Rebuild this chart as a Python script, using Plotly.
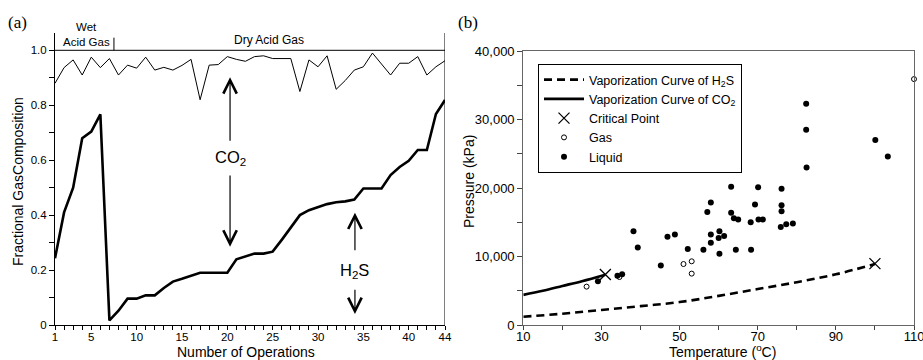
import plotly.graph_objects as go

# ---------------- data: panel (a) ----------------
operations = list(range(1, 45))
co2_frac = [0.88, 0.937, 0.965, 0.91, 0.975, 0.937, 0.97, 0.91, 0.946, 0.935,
            0.975, 0.928, 0.938, 0.928, 0.945, 0.967, 0.82, 0.946, 0.948, 0.977,
            0.967, 0.96, 0.977, 0.98, 0.97, 0.97, 0.97, 0.85, 0.965, 0.94,
            0.98, 0.858, 0.89, 0.928, 0.94, 0.99, 0.95, 0.91, 0.953, 0.953,
            0.977, 0.91, 0.94, 0.962]
h2s_frac = [0.243, 0.41, 0.50, 0.68, 0.704, 0.767, 0.017, 0.052, 0.096, 0.096,
            0.108, 0.108, 0.135, 0.158, 0.168, 0.18, 0.19, 0.19, 0.19, 0.19,
            0.239, 0.25, 0.26, 0.26, 0.267, 0.31, 0.355, 0.40, 0.418, 0.43,
            0.44, 0.447, 0.45, 0.457, 0.497, 0.497, 0.497, 0.546, 0.575, 0.598,
            0.637, 0.637, 0.768, 0.819]
a_xtick_vals = [1, 5, 10, 15, 20, 25, 30, 35, 40, 44]
a_ytick_vals = [0, 0.2, 0.4, 0.6, 0.8, 1.0]
a_ytick_text = ["0", "0.2", "0.4", "0.6", "0.8", "1.0"]

# ---------------- data: panel (b) ----------------
h2s_curve_T = [10, 20, 30, 40, 50, 60, 70, 80, 90, 100]
h2s_curve_P = [1200, 1650, 2200, 2750, 3350, 4250, 5250, 6250, 7400, 8900]
co2_curve_T = [10, 15, 20, 25, 31]
co2_curve_P = [4400, 5000, 5700, 6400, 7350]
crit_T = [31.0, 100.0]
crit_P = [7380, 8960]
gas_T = [26.2, 34.6, 51.0, 53.1, 53.1, 110.0]
gas_P = [5600, 7000, 8900, 9300, 7500, 35900]
liq_T = [29.1, 34.1, 35.3, 38.2, 39.3, 45.2, 46.9, 48.8, 52.1, 56.1,
         57.1, 58.0, 58.0, 58.0, 60.0, 60.2, 60.2, 61.4, 63.2, 63.2,
         63.9, 65.0, 64.4, 68.3, 68.2, 69.3, 70.1, 70.2, 71.3, 76.1,
         76.1, 76.1, 75.9, 77.3, 79.0, 82.4, 82.4, 82.5, 100.1, 103.3]
liq_P = [6400, 7200, 7400, 13700, 11300, 8700, 12900, 13200, 11100, 11000,
         16500, 17900, 13200, 12000, 12700, 13700, 10400, 13000, 20200, 16400,
         15600, 15400, 11000, 11000, 15000, 17600, 20100, 15400, 15400, 19900,
         17500, 16600, 14300, 14700, 14800, 32300, 28500, 23000, 27000, 24600]
b_xtick_vals = [10, 30, 50, 70, 90, 110]
b_ytick_vals = [0, 10000, 20000, 30000, 40000]

W, H = 923, 360
FONT = "Arial, Liberation Sans, sans-serif"
SERIF = "Times New Roman, Liberation Serif, serif"


def px_x(p):
    return p / W


def px_y(p):
    return 1 - p / H


fig = go.Figure()

# panel (a) traces
fig.add_trace(go.Scatter(x=operations, y=co2_frac, mode="lines",
                         line=dict(color="black", width=1), showlegend=False,
                         xaxis="x", yaxis="y"))
fig.add_trace(go.Scatter(x=operations, y=h2s_frac, mode="lines",
                         line=dict(color="black", width=2.6), showlegend=False,
                         xaxis="x", yaxis="y"))

# panel (b) traces
fig.add_trace(go.Scatter(x=h2s_curve_T, y=h2s_curve_P, mode="lines",
                         line=dict(color="black", width=2.6, dash="8px,5px", shape="spline"),
                         name="Vaporization Curve of H<sub>2</sub>S",
                         xaxis="x2", yaxis="y2"))
fig.add_trace(go.Scatter(x=co2_curve_T, y=co2_curve_P, mode="lines",
                         line=dict(color="black", width=2.6, shape="spline"),
                         name="Vaporization Curve of CO<sub>2</sub>",
                         xaxis="x2", yaxis="y2"))
fig.add_trace(go.Scatter(x=crit_T, y=crit_P, mode="markers",
                         marker=dict(symbol="x-thin", size=11, color="black",
                                     line=dict(color="black", width=1.3)),
                         name="Critical Point", xaxis="x2", yaxis="y2"))
fig.add_trace(go.Scatter(x=gas_T, y=gas_P, mode="markers", cliponaxis=False,
                         marker=dict(symbol="circle-open", size=5, color="black",
                                     line=dict(color="black", width=1)),
                         name="Gas", xaxis="x2", yaxis="y2"))
fig.add_trace(go.Scatter(x=liq_T, y=liq_P, mode="markers",
                         marker=dict(symbol="circle", size=6, color="black"),
                         name="Liquid", xaxis="x2", yaxis="y2"))

A_TOP = 1.063
tickfont_a = dict(family=FONT, size=11.5, color="black")
tickfont_b = dict(family=FONT, size=13, color="black")

fig.update_layout(
    width=W, height=H,
    margin=dict(l=0, r=0, t=0, b=0, pad=0, autoexpand=False),
    paper_bgcolor="white", plot_bgcolor="white",
    font=dict(family=FONT, color="black"),
    xaxis=dict(domain=[px_x(55), px_x(445)], range=[1, 44], anchor="y", automargin=False,
               showgrid=False, zeroline=False, showline=True, linecolor="black", linewidth=1,
               tickmode="array", tickvals=a_xtick_vals, ticks="outside", ticklen=4,
               ticklabelstandoff=-3,
               tickcolor="black", tickfont=tickfont_a,
               minor=dict(tickmode="array", tickvals=operations, ticks="outside",
                          ticklen=4, tickcolor="black")),
    yaxis=dict(domain=[px_y(325), px_y(33)], range=[0, A_TOP], anchor="x", automargin=False,
               showgrid=False, zeroline=False, showline=True, linecolor="black", linewidth=1,
               tickmode="array", tickvals=a_ytick_vals, ticktext=a_ytick_text,
               ticks="outside", ticklen=5, tickcolor="black", tickfont=tickfont_a,
               minor=dict(tickmode="array", tickvals=[0.1, 0.3, 0.5, 0.7, 0.9],
                          ticks="outside", ticklen=5, tickcolor="black")),
    xaxis2=dict(domain=[px_x(523.3), px_x(914)], range=[10, 110], anchor="y2", automargin=False,
                showgrid=False, zeroline=False, showline=True, mirror=True,
                linecolor="#666666", linewidth=1.2,
                tickmode="array", tickvals=b_xtick_vals, ticks="outside", ticklen=4,
                ticklabelstandoff=-5, ticklabeloverflow="allow",
                tickcolor="#444444", tickfont=tickfont_b,
                minor=dict(tickmode="array", tickvals=[20, 40, 60, 80, 100],
                           ticks="outside", ticklen=4, tickcolor="#444444")),
    yaxis2=dict(domain=[px_y(325), px_y(51)], range=[0, 40000], anchor="x2", automargin=False,
                showgrid=False, zeroline=False, showline=True, mirror=True,
                linecolor="#666666", linewidth=1.2,
                tickmode="array", tickvals=b_ytick_vals, tickformat=",d",
                ticks="outside", ticklen=5, tickcolor="#444444", tickfont=tickfont_b,
                minor=dict(tickmode="array", tickvals=[5000, 15000, 25000, 35000],
                           ticks="outside", ticklen=5, tickcolor="#444444")),
    legend=dict(x=px_x(538), y=px_y(64), xanchor="left", yanchor="top",
                bgcolor="white", bordercolor="black", borderwidth=1,
                font=dict(family=FONT, size=12.5, color="black"),
                itemwidth=40, tracegroupgap=0),
)

# frame lines of panel (a)
fig.add_shape(type="line", xref="x", yref="y", x0=1, x1=44, y0=1.0, y1=1.0,
              line=dict(color="black", width=1))
fig.add_shape(type="line", xref="x", yref="y", x0=44, x1=44, y0=0, y1=A_TOP,
              line=dict(color="black", width=1))
fig.add_shape(type="line", xref="x", yref="y", x0=7.5, x1=7.5, y0=1.0, y1=1.046,
              line=dict(color="black", width=1))


def paper_text(text, xp, yp, size, family=FONT, angle=0):
    return dict(text=text, x=px_x(xp), y=px_y(yp), xref="paper", yref="paper",
                xanchor="center", yanchor="middle", showarrow=False, textangle=angle,
                align="center", font=dict(family=family, size=size, color="black"))


ann = []
ann.append(paper_text("(a)", 17, 22, 17, SERIF))
ann.append(paper_text("(b)", 468, 22, 17, SERIF))
ann.append(paper_text("Wet", 86, 27, 11.5))
ann.append(paper_text("Acid Gas", 86, 41.5, 11.5))
ann.append(paper_text("Dry Acid Gas", 269, 40, 12))
ann.append(paper_text("Number of Operations", 246, 352, 14))
ann.append(paper_text("Fractional GasComposition", 18, 182, 14, angle=-90))
ann.append(paper_text("Temperature (<sup>o</sup>C)", 722, 351, 14))
ann.append(paper_text("Pressure (kPa)", 469, 182, 14, angle=-90))

# CO2 / H2S labels with arrows in panel (a)
arrow_style = dict(showarrow=True, arrowhead=5, arrowsize=2.2, arrowwidth=1.2,
                   arrowcolor="black", xref="x", yref="y", axref="x", ayref="y",
                   standoff=0, startstandoff=0, text="")
ann.append(dict(x=20.3, y=0.902, ax=20.3, ay=0.665, **arrow_style))
ann.append(dict(x=20.3, y=0.285, ax=20.3, ay=0.55, **arrow_style))
ann.append(dict(text="CO<sub>2</sub>", x=20.3, y=0.608, xref="x", yref="y", showarrow=False,
                xanchor="center", yanchor="middle",
                font=dict(family=FONT, size=16.5, color="black")))
ann.append(dict(x=34.07, y=0.409, ax=34.07, ay=0.267, **arrow_style))
ann.append(dict(x=34.07, y=0.04, ax=34.07, ay=0.134, **arrow_style))
ann.append(dict(text="H<sub>2</sub>S", x=34.07, y=0.198, xref="x", yref="y", showarrow=False,
                xanchor="center", yanchor="middle",
                font=dict(family=FONT, size=16.5, color="black")))

fig.update_layout(annotations=ann)

fig.write_html("out.html")
